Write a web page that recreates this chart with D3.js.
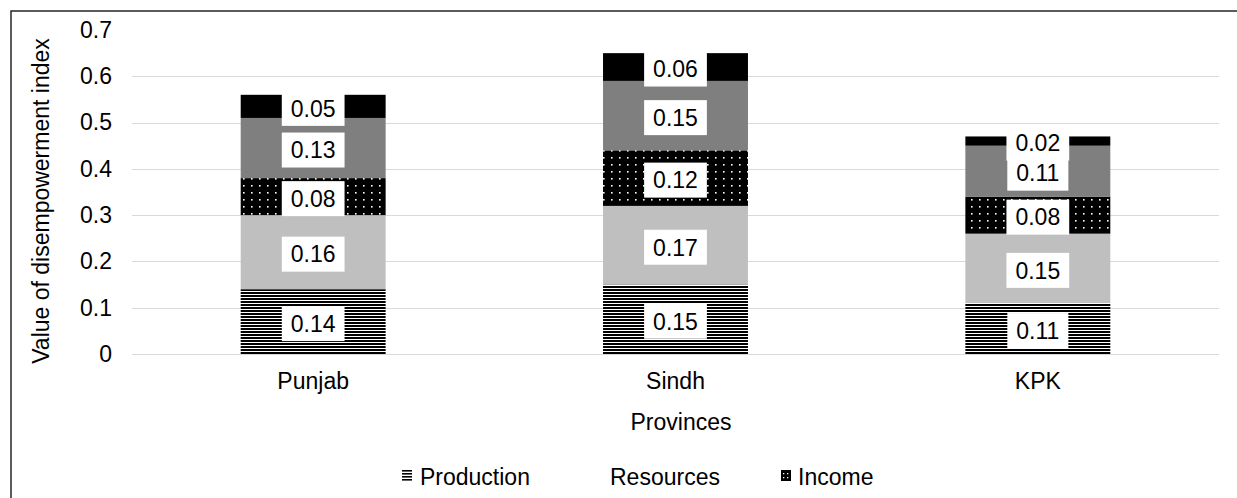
<!DOCTYPE html>
<html>
<head>
<meta charset="utf-8">
<script src="https://cdn.jsdelivr.net/npm/d3@7"></script>
<style>
  html, body { margin: 0; padding: 0; background: #fff; }
  svg { display: block; font-family: "Liberation Sans", Arial, sans-serif; }
</style>
</head>
<body>
<svg id="chart" width="1237" height="498"></svg>
<script>
// Disempowerment index by province, split by domain
const provinces = ["Punjab", "Sindh", "KPK"];
const seriesNames = ["Production", "Resources", "Income", "Leadership", "Time"];
const production = [0.14, 0.15, 0.11];
const resources  = [0.16, 0.17, 0.15];
const income     = [0.08, 0.12, 0.08];
const leadership = [0.13, 0.15, 0.11];
const time       = [0.05, 0.06, 0.02];
const yTicks = [0, 0.1, 0.2, 0.3, 0.4, 0.5, 0.6, 0.7];
const legendNames = ["Production", "Resources", "Income"];

const rows = provinces.map((p, i) => ({
  province: p,
  Production: production[i],
  Resources: resources[i],
  Income: income[i],
  Leadership: leadership[i],
  Time: time[i]
}));

const svg = d3.select("#chart");
const W = 1237, H = 498;
const plot = { left: 132, right: 1219, top: 30, bottom: 354 };

// Fill patterns
const defs = svg.append("defs");
const stripes = defs.append("pattern")
  .attr("id", "pat-stripes").attr("patternUnits", "userSpaceOnUse")
  .attr("width", 6).attr("height", 3);
stripes.append("rect").attr("width", 6).attr("height", 3).attr("fill", "#fff");
stripes.append("rect").attr("y", 1).attr("width", 6).attr("height", 2).attr("fill", "#000");

const dots = defs.append("pattern")
  .attr("id", "pat-dots").attr("patternUnits", "userSpaceOnUse")
  .attr("width", 8).attr("height", 7);
dots.append("rect").attr("width", 8).attr("height", 7).attr("fill", "#000");
dots.append("rect").attr("x", 3).attr("y", 3).attr("width", 1.6).attr("height", 1.6).attr("fill", "#fff");

const fills = {
  Production: "url(#pat-stripes)",
  Resources: "#bfbfbf",
  Income: "url(#pat-dots)",
  Leadership: "#7f7f7f",
  Time: "#000000"
};

const x = d3.scaleBand()
  .domain(provinces)
  .range([plot.left, plot.right])
  .paddingInner(0.6)
  .paddingOuter(0.3);

const y = d3.scaleLinear()
  .domain([0, 0.7])
  .range([plot.bottom, plot.top]);

// Outer frame
svg.append("rect")
  .attr("x", 11).attr("y", 11)
  .attr("width", W + 20).attr("height", H + 20)
  .attr("fill", "none").attr("stroke", "#262626").attr("stroke-width", 1.5);

// Gridlines
svg.append("g")
  .selectAll("line")
  .data(yTicks.filter(t => t < 0.7))
  .join("line")
  .attr("x1", plot.left).attr("x2", plot.right)
  .attr("y1", d => Math.round(y(d)) + 0.5).attr("y2", d => Math.round(y(d)) + 0.5)
  .attr("stroke", "#d9d9d9").attr("stroke-width", 1);

// Y axis labels
const yAxis = d3.axisLeft(y).tickValues(yTicks).tickSize(0).tickPadding(0)
  .tickFormat(d => d === 0 ? "0" : d3.format(".1f")(d));
const gy = svg.append("g").attr("transform", `translate(112,0)`).call(yAxis);
gy.select(".domain").remove();
gy.selectAll("text").attr("font-size", 23).attr("fill", "#000")
  .attr("font-family", "Liberation Sans, Arial, sans-serif");

// X axis labels
const xAxis = d3.axisBottom(x).tickSize(0).tickPadding(0);
const gx = svg.append("g").attr("transform", `translate(0,${plot.bottom})`).call(xAxis);
gx.select(".domain").remove();
gx.selectAll("text").attr("font-size", 23).attr("fill", "#000")
  .attr("font-family", "Liberation Sans, Arial, sans-serif")
  .attr("dy", null).attr("y", 35);

// Stacked bars
const stack = d3.stack().keys(seriesNames);
const layers = stack(rows);

const gBars = svg.append("g");
layers.forEach(layer => {
  gBars.append("g")
    .selectAll("rect")
    .data(layer)
    .join("rect")
    .attr("x", d => x(d.data.province))
    .attr("width", x.bandwidth())
    .attr("y", d => y(d[1]))
    .attr("height", d => y(d[0]) - y(d[1]))
    .attr("fill", fills[layer.key]);
});

// Value labels in white boxes
const gLabels = svg.append("g");
layers.forEach(layer => {
  layer.forEach(d => {
    const value = d[1] - d[0];
    const cx = x(d.data.province) + x.bandwidth() / 2;
    const cy = (y(d[0]) + y(d[1])) / 2 + 2;
    const g = gLabels.append("g");
    const box = g.append("rect").attr("fill", "#fff");
    const t = g.append("text")
      .attr("x", cx).attr("y", cy).attr("dy", "0.36em")
      .attr("text-anchor", "middle")
      .attr("font-size", 23).attr("fill", "#000")
      .text(d3.format(".2f")(value));
    const w = t.node().getComputedTextLength() + 18;
    const h = 35;
    box.attr("x", cx - w / 2).attr("y", cy - h / 2).attr("width", w).attr("height", h);
  });
});

// Axis titles
svg.append("text")
  .attr("transform", "translate(49,201) rotate(-90)")
  .attr("text-anchor", "middle")
  .attr("font-size", 23).attr("fill", "#000")
  .text("Value of disempowerment index");

svg.append("text")
  .attr("x", 681).attr("y", 430)
  .attr("text-anchor", "middle")
  .attr("font-size", 23).attr("fill", "#000")
  .text("Provinces");

// Legend
const legendX = [420, 610, 798];
const legend = svg.append("g");
legendNames.forEach((name, i) => {
  const g = legend.append("g");
  if (name === "Production") {
    [0, 3, 6, 9].forEach(o => g.append("rect")
      .attr("x", legendX[i] - 18).attr("y", 470 + o)
      .attr("width", 10).attr("height", 1.6).attr("fill", "#000"));
  } else if (name === "Income") {
    g.append("rect").attr("x", legendX[i] - 17).attr("y", 470)
      .attr("width", 10).attr("height", 11).attr("fill", "#000");
    [[2, 3], [6, 3], [2, 7], [6, 7]].forEach(p => g.append("rect")
      .attr("x", legendX[i] - 17 + p[0]).attr("y", 470 + p[1])
      .attr("width", 1.3).attr("height", 1.3).attr("fill", "#fff"));
  }
  g.append("text")
    .attr("x", legendX[i]).attr("y", 485)
    .attr("font-size", 23).attr("fill", "#000")
    .text(name);
});
</script>
</body>
</html>
